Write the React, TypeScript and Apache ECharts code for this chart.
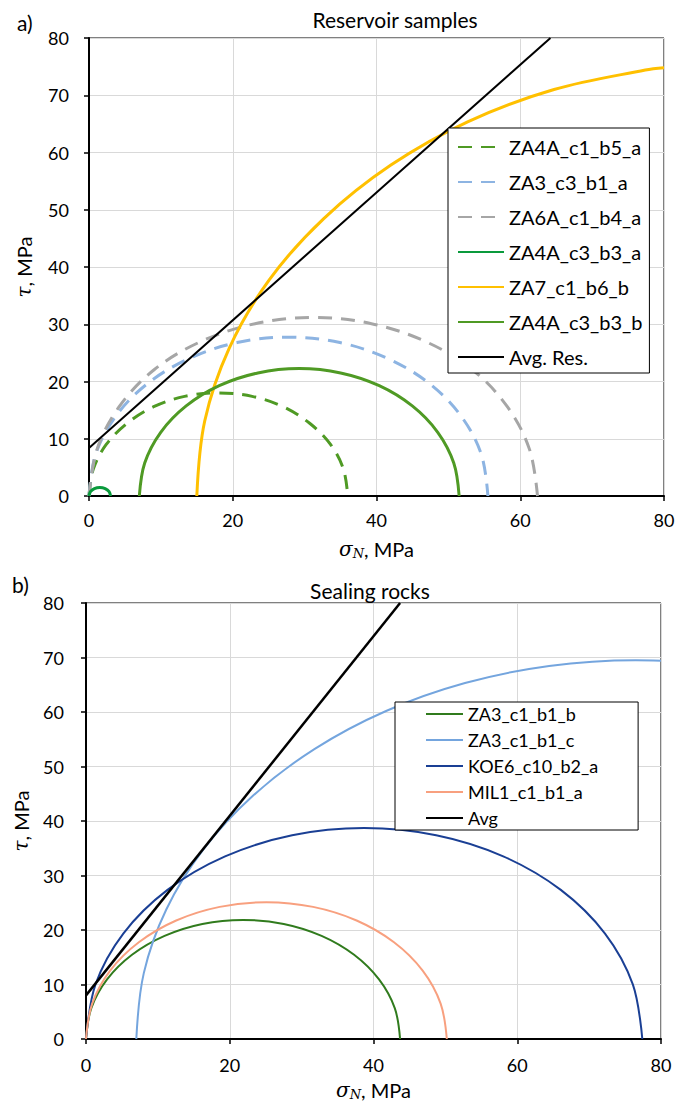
import React, { useEffect, useRef } from "react";
import * as echarts from "echarts";

// ---------- Panel a) Reservoir samples ----------
const resNames = ["ZA4A_c1_b5_a", "ZA3_c3_b1_a", "ZA6A_c1_b4_a", "ZA4A_c3_b3_a", "ZA7_c1_b6_b", "ZA4A_c3_b3_b", "Avg. Res."];

const resZA4A_c1_b5_a = [[0, 0], [0.6, 4.7], [2.4, 9], [5.3, 12.7], [9, 15.6], [13.3, 17.4], [18, 18], [22.7, 17.4], [27, 15.6], [30.7, 12.7], [33.6, 9], [35.4, 4.7], [36, 0]];
const resZA3_c3_b1_a = [[0, 0], [0.9, 7.2], [3.7, 13.9], [8.1, 19.6], [13.9, 24.0], [20.6, 26.8], [27.8, 27.75], [34.9, 26.8], [41.6, 24.0], [47.4, 19.6], [51.8, 13.9], [54.6, 7.2], [55.5, 0]];
const resZA6A_c1_b4_a = [[0, 0], [1.1, 8.1], [4.2, 15.6], [9.1, 22.1], [15.6, 27.0], [23.1, 30.1], [31.2, 31.2], [39.3, 30.1], [46.8, 27.0], [53.3, 22.1], [58.2, 15.6], [61.3, 8.1], [62.4, 0]];
const resZA4A_c3_b3_a = [[0, 0], [0.2, 0.75], [0.75, 1.3], [1.5, 1.5], [2.25, 1.3], [2.8, 0.75], [3, 0]];
const resZA7_c1_b6_b = [[15, 0], [16.1, 13.1], [19.5, 25.8], [25.1, 37.8], [32.7, 48.5], [42.0, 57.8], [52.75, 65.4], [64.7, 71.0], [77.4, 74.4], [80, 74.8]];
const resZA4A_c3_b3_b = [[7, 0], [7.75, 5.76], [9.98, 11.13], [13.52, 15.73], [18.12, 19.27], [23.49, 21.49], [29.25, 22.25], [35.01, 21.49], [40.38, 19.27], [44.98, 15.73], [48.52, 11.13], [50.75, 5.76], [51.5, 0]];
const resAvg = [[0, 8.4], [64.2, 80]];

// ---------- Panel b) Sealing rocks ----------
const sealNames = ["ZA3_c1_b1_b", "ZA3_c1_b1_c", "KOE6_c10_b2_a", "MIL1_c1_b1_a", "Avg"];

const sealZA3_c1_b1_b = [[0, 0], [0.74, 5.66], [2.93, 10.93], [6.4, 15.45], [10.93, 18.92], [16.19, 21.11], [21.85, 21.85], [27.51, 21.11], [32.78, 18.92], [37.3, 15.45], [40.77, 10.93], [42.96, 5.66], [43.7, 0]];
const sealZA3_c1_b1_c = [[7, 0], [8.04, 12.09], [11.17, 23.77], [16.31, 34.75], [23.26, 44.67], [31.83, 53.24], [41.75, 60.19], [52.73, 65.31], [64.43, 68.44], [76.5, 69.5], [80, 69.41]];
const sealKOE6_c10_b2_a = [[0, 0], [1.32, 10.02], [5.19, 19.35], [11.34, 27.36], [19.35, 33.51], [28.68, 37.38], [38.7, 38.7], [48.72, 37.38], [58.05, 33.51], [66.06, 27.36], [72.21, 19.35], [76.08, 10.02], [77.4, 0]];
const sealMIL1_c1_b1_a = [[0, 0], [0.86, 6.5], [3.36, 12.55], [7.35, 17.75], [12.55, 21.74], [18.6, 24.24], [25.1, 25.1], [31.6, 24.24], [37.65, 21.74], [42.85, 17.75], [46.84, 12.55], [49.34, 6.5], [50.2, 0]];
const sealAvg = [[0, 8], [43.7, 80]];

const xTickLabels = ["0", "20", "40", "60", "80"];
const yTickLabels = ["0", "10", "20", "30", "40", "50", "60", "70", "80"];

const FONT = "Lato, 'Noto Sans', sans-serif";

function line(name: string, data: number[][], color: string, width: number, dashed: boolean, idx: number, smooth = true) {
  return {
    type: "line",
    name,
    data,
    xAxisIndex: idx,
    yAxisIndex: idx,
    symbol: "none",
    smooth: smooth ? 0.35 : false,
    lineStyle: { color, width, type: dashed ? [14, 9] : "solid", cap: "butt" },
    itemStyle: { color },
    z: 3,
  };
}

function xAxis(idx: number, margin: number, nameGap: number) {
  return {
    type: "value",
    gridIndex: idx,
    min: 0,
    max: 80,
    interval: 20,
    axisLine: { show: true, onZero: false, lineStyle: { color: "#000", width: 2 } },
    axisTick: { show: true, length: 5, lineStyle: { color: "#000", width: 1.5 } },
    axisLabel: {
      color: "#000",
      fontFamily: FONT,
      fontSize: 18,
      margin,
      formatter: (v: number) => xTickLabels[Math.round(v / 20)] ?? String(v),
    },
    splitLine: { show: true, lineStyle: { color: "#d9d9d9", width: 1 } },
    name: "{s|σ}{n|N}{t|, MPa}",
    nameLocation: "middle",
    nameGap,
    nameTextStyle: {
      color: "#000",
      fontFamily: FONT,
      fontSize: 20,
      rich: {
        s: { fontFamily: "'DejaVu Serif', serif", fontStyle: "italic", fontSize: 20, color: "#000" },
        n: { fontFamily: "'DejaVu Serif', serif", fontStyle: "italic", fontSize: 13, color: "#000", padding: [9, 0, 0, 0] },
        t: { fontFamily: FONT, fontSize: 20, color: "#000" },
      },
    },
  };
}

function yAxis(idx: number, margin: number, nameGap: number) {
  return {
    type: "value",
    gridIndex: idx,
    min: 0,
    max: 80,
    interval: 10,
    axisLine: { show: true, onZero: false, lineStyle: { color: "#000", width: 2 } },
    axisTick: { show: true, length: 5, lineStyle: { color: "#000", width: 1.5 } },
    axisLabel: {
      color: "#000",
      fontFamily: FONT,
      fontSize: 18,
      margin,
      formatter: (v: number) => yTickLabels[Math.round(v / 10)] ?? String(v),
    },
    splitLine: { show: true, lineStyle: { color: "#d9d9d9", width: 1 } },
    name: "{s|τ}{t|, MPa}",
    nameLocation: "middle",
    nameGap,
    nameRotate: 90,
    nameTextStyle: {
      color: "#000",
      fontFamily: FONT,
      fontSize: 20,
      rich: {
        s: { fontFamily: "'DejaVu Serif', serif", fontStyle: "italic", fontSize: 20, color: "#000" },
        t: { fontFamily: FONT, fontSize: 20, color: "#000" },
      },
    },
  };
}

export default function App() {
  const ref = useRef<HTMLDivElement>(null);
  useEffect(() => {
    if (!ref.current) return;
    const chart = echarts.init(ref.current, undefined, { renderer: "svg" });
    chart.setOption({
      animation: false,
      backgroundColor: "#fff",
      grid: [
        { left: 89, top: 38, width: 575, height: 458, show: true, borderColor: "#000", borderWidth: 1, containLabel: false },
        { left: 86, top: 603, width: 575, height: 439, show: true, borderColor: "#000", borderWidth: 1, containLabel: false },
      ],
      xAxis: [xAxis(0, 15, 42), xAxis(1, 17, 40)],
      yAxis: [yAxis(0, 20, 55), yAxis(1, 22, 55)],
      legend: [
        {
          data: resNames,
          orient: "vertical",
          left: 448,
          top: 128,
          padding: [9, 7, 6, 9],
          itemGap: 15,
          itemWidth: 46,
          itemHeight: 14,
          borderColor: "#000",
          borderWidth: 1,
          backgroundColor: "#fff",
          itemStyle: { opacity: 0 },
          textStyle: { fontFamily: FONT, fontSize: 20, color: "#000" },
        },
        {
          data: sealNames,
          orient: "vertical",
          left: 395,
          top: 702,
          padding: [3, 40, 3, 30],
          itemGap: 8,
          itemWidth: 37,
          itemHeight: 12,
          borderColor: "#000",
          borderWidth: 1,
          backgroundColor: "#fff",
          itemStyle: { opacity: 0 },
          textStyle: { fontFamily: FONT, fontSize: 18, color: "#000" },
        },
      ],
      graphic: [
        { type: "text", left: 17, top: 12, style: { text: "a)", fontFamily: FONT, fontSize: 21, fill: "#000" } },
        { type: "text", x: 395, y: 19, style: { text: "Reservoir samples", fontFamily: FONT, fontSize: 21, fill: "#000", align: "center", verticalAlign: "middle" } },
        { type: "text", left: 12, top: 574, style: { text: "b)", fontFamily: FONT, fontSize: 21, fill: "#000" } },
        { type: "text", x: 370, y: 590, style: { text: "Sealing rocks", fontFamily: FONT, fontSize: 21, fill: "#000", align: "center", verticalAlign: "middle" } },
      ],
      series: [
        line("ZA4A_c1_b5_a", resZA4A_c1_b5_a, "#4f9a24", 3, true, 0),
        line("ZA3_c3_b1_a", resZA3_c3_b1_a, "#8db4e2", 3, true, 0),
        line("ZA6A_c1_b4_a", resZA6A_c1_b4_a, "#a6a6a6", 3, true, 0),
        line("ZA4A_c3_b3_a", resZA4A_c3_b3_a, "#0a9a3c", 3, false, 0),
        line("ZA7_c1_b6_b", resZA7_c1_b6_b, "#ffc000", 3, false, 0),
        line("ZA4A_c3_b3_b", resZA4A_c3_b3_b, "#4f9a24", 3, false, 0),
        line("Avg. Res.", resAvg, "#000000", 2, false, 0, false),
        line("ZA3_c1_b1_b", sealZA3_c1_b1_b, "#307b1d", 2, false, 1),
        line("ZA3_c1_b1_c", sealZA3_c1_b1_c, "#74a5de", 2, false, 1),
        line("KOE6_c10_b2_a", sealKOE6_c10_b2_a, "#1a3f94", 2, false, 1),
        line("MIL1_c1_b1_a", sealMIL1_c1_b1_a, "#f8a07f", 2, false, 1),
        line("Avg", sealAvg, "#000000", 2.5, false, 1, false),
      ],
    });
    return () => chart.dispose();
  }, []);
  return <div ref={ref} style={{ position: "absolute", left: 0, top: 0, width: 690, height: 1102, background: "#fff" }} />;
}
